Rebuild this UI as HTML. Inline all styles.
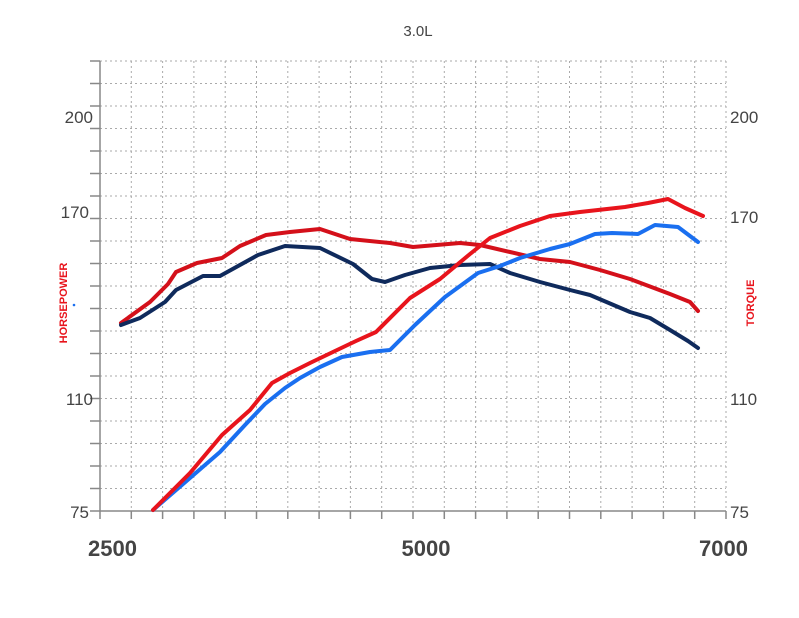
<!DOCTYPE html>
<html><head><style>body{margin:0;background:#fff}svg{display:block}</style></head><body>
<svg width="799" height="618" xmlns="http://www.w3.org/2000/svg" font-family="Liberation Sans, sans-serif">
<rect width="799" height="618" fill="#fff"/>
<g stroke="#aaa" stroke-width="1" stroke-dasharray="2,3">
<line x1="100" y1="61" x2="726" y2="61"/><line x1="100" y1="83.5" x2="726" y2="83.5"/><line x1="100" y1="106" x2="726" y2="106"/><line x1="100" y1="128.5" x2="726" y2="128.5"/><line x1="100" y1="151" x2="726" y2="151"/><line x1="100" y1="173.5" x2="726" y2="173.5"/><line x1="100" y1="196" x2="726" y2="196"/><line x1="100" y1="218.5" x2="726" y2="218.5"/><line x1="100" y1="241" x2="726" y2="241"/><line x1="100" y1="263.5" x2="726" y2="263.5"/><line x1="100" y1="286" x2="726" y2="286"/><line x1="100" y1="308.5" x2="726" y2="308.5"/><line x1="100" y1="331" x2="726" y2="331"/><line x1="100" y1="353.5" x2="726" y2="353.5"/><line x1="100" y1="376" x2="726" y2="376"/><line x1="100" y1="398.5" x2="726" y2="398.5"/><line x1="100" y1="421" x2="726" y2="421"/><line x1="100" y1="443.5" x2="726" y2="443.5"/><line x1="100" y1="466" x2="726" y2="466"/><line x1="100" y1="488.5" x2="726" y2="488.5"/>
<line x1="131.3" y1="61" x2="131.3" y2="511"/><line x1="162.6" y1="61" x2="162.6" y2="511"/><line x1="193.9" y1="61" x2="193.9" y2="511"/><line x1="225.2" y1="61" x2="225.2" y2="511"/><line x1="256.5" y1="61" x2="256.5" y2="511"/><line x1="287.8" y1="61" x2="287.8" y2="511"/><line x1="319.1" y1="61" x2="319.1" y2="511"/><line x1="350.4" y1="61" x2="350.4" y2="511"/><line x1="381.7" y1="61" x2="381.7" y2="511"/><line x1="413" y1="61" x2="413" y2="511"/><line x1="444.3" y1="61" x2="444.3" y2="511"/><line x1="475.6" y1="61" x2="475.6" y2="511"/><line x1="506.9" y1="61" x2="506.9" y2="511"/><line x1="538.2" y1="61" x2="538.2" y2="511"/><line x1="569.5" y1="61" x2="569.5" y2="511"/><line x1="600.8" y1="61" x2="600.8" y2="511"/><line x1="632.1" y1="61" x2="632.1" y2="511"/><line x1="663.4" y1="61" x2="663.4" y2="511"/><line x1="694.7" y1="61" x2="694.7" y2="511"/><line x1="726" y1="61" x2="726" y2="511"/>
</g>
<g stroke="#888" stroke-width="1.5">
<line x1="100" y1="61" x2="100" y2="519"/><line x1="100" y1="511" x2="726" y2="511"/>
<path d="M90 61H100M90 83.5H100M90 106H100M90 128.5H100M90 151H100M90 173.5H100M90 196H100M90 218.5H100M90 241H100M90 263.5H100M90 286H100M90 308.5H100M90 331H100M90 353.5H100M90 376H100M90 398.5H100M90 421H100M90 443.5H100M90 466H100M90 488.5H100M90 511H100"/>
<path d="M131.3 511V519M162.6 511V519M193.9 511V519M225.2 511V519M256.5 511V519M287.8 511V519M319.1 511V519M350.4 511V519M381.7 511V519M413 511V519M444.3 511V519M475.6 511V519M506.9 511V519M538.2 511V519M569.5 511V519M600.8 511V519M632.1 511V519M663.4 511V519M694.7 511V519M726 511V519"/>
</g>
<g fill="none" stroke-width="4" stroke-linejoin="round" stroke-linecap="round">
<polyline stroke="#d4101a" points="121,323 150,302 168,284 176,272 197,263 222,258 240,246 266,235 290,232 320,229 350,239 390,243 413,247 460,243 480,245 510,252 540,259 570,262 600,270 630,279 670,294 690,302 698,311"/>
<polyline stroke="#0f2a5c" points="121,325 140,318 165,302 176,290 203,276 220,276 258,255 285,246 320,248 353,264 372,279 385,282 405,275 430,268 460,265 490,264 510,273 540,282 570,290 590,295 630,312 650,318 670,330 688,341 698,348"/>
<polyline stroke="#1a6ff0" points="153,510 190,478 220,452 245,425 265,404 285,388 300,378 320,367 342,357 370,352 390,350 415,325 445,297 478,273 500,266 520,258 550,249 570,244 595,234 612,233 638,234 655,225 678,227 698,242"/>
<polyline stroke="#e8141c" points="153,510 190,473 222,435 250,410 272,383 290,373 310,363 335,351 356,341 376,332 410,298 440,279 470,254 490,238 520,226 550,216 580,212 625,207 648,203 668,199 685,208 703,216"/>
</g>
<g fill="#444">
<text x="418" y="36" font-size="15" text-anchor="middle">3.0L</text>
<g font-size="17" text-anchor="end"><text x="93" y="123">200</text><text x="89" y="218">170</text><text x="93" y="405">110</text><text x="89" y="518">75</text></g>
<g font-size="17"><text x="730" y="123">200</text><text x="730" y="223">170</text><text x="730" y="405">110</text><text x="730" y="518">75</text></g>
<g font-size="22" font-weight="bold"><text x="88" y="556">2500</text><text x="426" y="556" text-anchor="middle">5000</text><text x="748" y="556" text-anchor="end">7000</text></g>
</g>
<text transform="translate(67,303) rotate(-90)" font-size="11" font-weight="bold" fill="#e8141c" text-anchor="middle">HORSEPOWER</text>
<text transform="translate(754,303) rotate(-90)" font-size="11" font-weight="bold" fill="#e8141c" text-anchor="middle">TORQUE</text>
<circle cx="74" cy="305" r="1.3" fill="#1a6ff0"/>
</svg>
</body></html>
